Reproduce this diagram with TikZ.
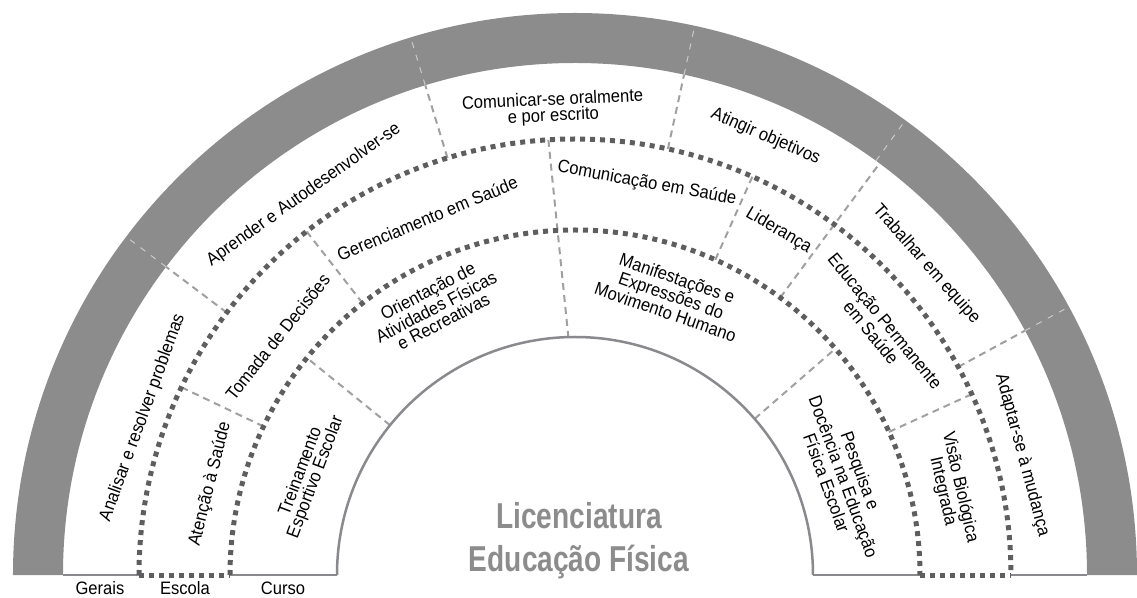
\documentclass[tikz,border=0pt]{standalone}
\usepackage{fontspec}
\setmainfont{Liberation Sans}[FakeStretch=0.92]
\newfontfamily\titlefont{Liberation Sans}[FakeStretch=0.78]
\definecolor{bandgray}{HTML}{8C8C8C}
\definecolor{dotgray}{HTML}{5E5E5E}
\definecolor{sepgray}{HTML}{A0A0A0}
\definecolor{linegray}{HTML}{8A8A8E}
\tikzset{
  lbl/.style={font=\fontsize{18}{16}\selectfont, align=center, inner sep=0pt},
  ringdots/.style={draw=dotgray, line width=5pt, dash pattern=on 5pt off 5pt},
  sepline/.style={draw=sepgray, line width=2pt, dash pattern=on 7pt off 5pt},
  bandcut/.style={draw=white!55!bandgray, line width=1pt, dash pattern=on 6pt off 7pt},
  floorline/.style={draw=linegray, line width=2.5pt},
  bigtitle/.style={font=\titlefont\bfseries\fontsize{36}{43}\selectfont, text=bandgray, anchor=base, inner sep=0pt}
}
\begin{document}
\begin{tikzpicture}[x=1pt,y=1pt]
\useasboundingbox (-575,-22) rectangle (562,575);
% Draw the grey band on the outside
\fill[bandgray] (0:562) arc (0:180:562) -- (180:512) arc (180:0:512) -- cycle;
% Faint gaps in the band where the outer separators go through
\foreach \a in {143,107,77.7,54,28.5}
{
  \draw[bandcut] (\a:512) -- (\a:562);
}
% Separators of the outer ring (Gerais)
\foreach \a in {143,107,77.7,28.5}
{
  \draw[sepline] (\a:436) -- (\a:512);
}
% This one runs through the outer and the middle ring
\draw[sepline] (53.5:345) -- (53.5:512);
% Separators of the middle ring (Escola)
\foreach \a in {154.5,128,66,24.5}
{
  \draw[sepline] (\a:345) -- (\a:436);
}
% This one runs through the middle and the inner ring
\draw[sepline] (93.5:436) -- (91.6:238);
% Separators of the inner ring (Curso)
\foreach \a in {141,41}
{
  \draw[sepline] (\a:238) -- (\a:345);
}
% The floor and the inner arc
\draw[floorline] (180:238) arc (180:0:238);
\draw[floorline] (-512,0) -- (-436,0) (-345,0) -- (-238,0);
\draw[floorline] (238,0) -- (345,0) (436,0) -- (512,0);
% The two dotted rings round the Escola ring
\draw[ringdots] (180:436) arc (180:0:436);
\draw[ringdots] (180:345) arc (180:0:345);
\draw[ringdots] (-436,0) -- (-345,0);
\draw[ringdots] (345,0) -- (436,0);

% Gerais
\draw (160:460) node[lbl, rotate=70] (g1) {Analisar e resolver problemas};
\draw (125.5:467) node[lbl, rotate=35.5] (g2) {Aprender e Autodesenvolver-se};
\draw (92.7:467) node[lbl, rotate=2.7] (g3) {Comunicar-se oralmente\\e por escrito};
\draw (66.5:478) node[lbl, rotate=-23.5] (g4) {Atingir objetivos};
\draw (41.5:469) node[lbl, rotate=-48.5] (g5) {Trabalhar em equipe};
\draw (15:463) node[lbl, rotate=-75] (g6) {Adaptar-se à mudança};

% Escola
\draw (166:376) node[lbl, rotate=76] (e1) {Atenção à Saúde};
\draw (141.3:381) node[lbl, rotate=51.3] (e2) {Tomada de Decisões};
\draw (112.5:386) node[lbl, rotate=22.5] (e3) {Gerenciamento em Saúde};
\draw (79.6:398) node[lbl, rotate=-10.4] (e4) {Comunicação em Saúde};
\draw (59.4:400) node[lbl, rotate=-30.6] (e5) {Liderança};
\draw (39.3:392) node[lbl, rotate=-50.7] (e6) {Educação Permanente\\em Saúde};
\draw (12.8:386) node[lbl, rotate=-77.2] (e7) {Visão Biológica\\Integrada};

% Curso
\draw (159.3:285) node[lbl, rotate=69.3] (c1) {Treinamento\\Esportivo Escolar};
\draw (117.4:303) node[lbl, rotate=27.4] (c2) {Orientação de\\Atividades Físicas\\e Recreativas};
\draw (71:296) node[lbl, rotate=-19] (c3) {Manifestações e\\Expressões do\\Movimento Humano};
\draw (20.1:286) node[lbl, rotate=-69.9] (c4) {Pesquisa e\\Docência na Educação\\Física Escolar};

% Names of the rings under the floor
\node[lbl, anchor=base] (gerais) at (-475,-19) {Gerais};
\node[lbl, anchor=base] (escola) at (-390,-19) {Escola};
\node[lbl, anchor=base] (curso) at (-292,-19) {Curso};

% Title in the middle
\node[bigtitle] (lic) at (4,47) {Licenciatura};
\node[bigtitle] (edfis) at (4,4) {Educação Física};
\end{tikzpicture}
\end{document}
